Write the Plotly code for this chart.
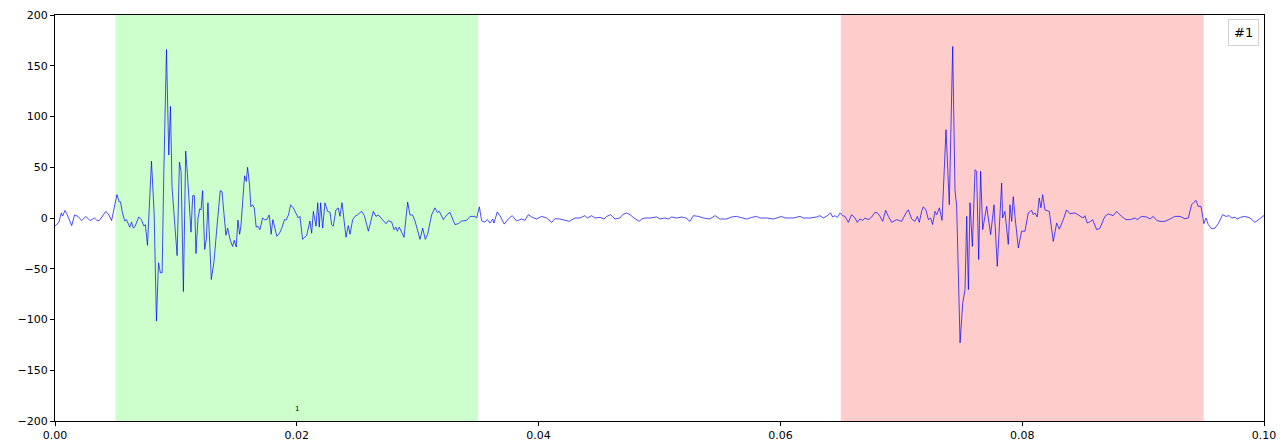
import numpy as np
import plotly.graph_objects as go

# sample times (ms) and amplitudes
t_ms = [0.0, 0.06, 0.33, 0.52, 0.63, 0.83, 1.02, 1.38, 1.62, 1.90, 2.20, 2.56, 2.89, 3.27, 3.49, 3.66,
        4.21, 4.46, 4.68, 5.12, 5.31, 5.42, 5.58, 5.78, 5.91, 6.05, 6.19, 6.33, 6.49, 6.63, 6.93,
        7.15, 7.35, 7.48, 7.65, 7.98, 8.20, 8.39, 8.56, 8.72, 8.86, 9.00, 9.22, 9.41, 9.55, 9.68,
        10.10, 10.29, 10.43, 10.62, 10.81, 10.95, 11.25, 11.39, 11.53, 11.66, 11.83, 11.97, 12.08,
        12.21, 12.38, 12.52, 12.65, 12.93, 13.15, 13.40, 13.67, 13.81, 14.00, 14.14, 14.28, 14.50,
        14.69, 14.83, 14.99, 15.13, 15.27, 15.38, 15.68, 15.82, 15.93, 16.09, 16.20, 16.34, 16.48,
        16.64, 16.78, 16.95, 17.17, 17.33, 17.52, 17.72, 17.88, 18.02, 18.35, 18.57, 18.76, 18.98,
        19.12, 19.31,
        19.49, 19.71, 20.13, 20.26, 20.48, 20.82, 21.09, 21.23, 21.37, 21.59, 21.73, 21.86, 21.97,
        22.14, 22.33, 22.55, 22.75, 22.88, 23.02, 23.24, 23.43, 23.57, 23.74, 23.90, 24.07, 24.26,
        24.40, 24.62, 24.81, 25.01, 25.36, 25.59, 25.92, 26.33, 26.55, 26.74, 27.02, 27.38, 27.57,
        27.85, 28.04, 28.20, 28.31, 28.48, 28.67, 28.87, 29.03, 29.17, 29.36, 29.58, 29.78, 29.97,
        30.19, 30.41, 30.63, 30.82, 31.15, 31.43, 31.62, 31.79, 32.12, 32.40, 32.67, 32.89, 33.08,
        33.36, 33.64, 34.05, 34.33, 34.74, 34.88, 35.10,
        35.29, 35.56, 35.76, 35.98, 36.20, 36.31, 36.58, 36.80, 37.16, 37.49, 37.82, 38.18, 38.60,
        38.87, 39.15, 39.42, 39.84, 40.25, 40.66, 41.08, 41.35, 41.77, 42.18, 42.54, 43.01, 43.42,
        43.83, 44.03, 44.39, 44.66, 45.08, 45.41, 45.63, 45.96, 46.32, 46.73, 46.95, 47.28, 47.56,
        47.89, 48.33, 48.52, 48.80, 49.21, 49.76, 50.04, 50.45, 50.73, 51.00, 51.42, 51.83, 52.19,
        52.52, 52.80, 53.21, 53.62, 54.17, 54.59, 55.00, 55.55, 55.97, 56.38, 56.66, 56.93, 57.21,
        57.62, 58.03, 58.31, 58.86, 59.41, 60.10, 60.38, 61.07, 61.62, 61.89, 62.45, 63.00, 63.27,
        63.55, 63.88, 64.15, 64.32, 64.51, 64.71,
        64.93, 65.15, 65.34, 65.62, 65.89, 66.17, 66.36, 66.58, 66.80, 67.00, 67.27, 67.55, 67.82,
        68.02, 68.24, 68.46, 68.71, 68.93, 69.20, 69.62, 70.03, 70.39, 70.58, 70.86, 71.13, 71.33,
        71.49, 71.68, 71.82, 72.04, 72.24, 72.43, 72.59, 72.79, 72.93, 73.15, 73.37, 73.70, 73.97,
        74.25, 74.44, 74.58, 74.86, 75.08, 75.27, 75.41, 75.55, 75.68, 75.88, 76.10, 76.23, 76.40,
        76.56, 76.73, 77.06, 77.39, 77.67, 77.94, 78.30,
        78.38, 78.57, 78.85, 78.99, 79.13, 79.26, 79.40, 79.68, 79.95, 80.23, 80.50, 80.78, 80.92,
        81.05, 81.25, 81.41, 81.55, 81.69, 81.88, 82.24, 82.57, 82.85, 83.07, 83.40, 83.67, 83.95,
        84.36, 84.78, 85.05, 85.19, 85.38, 85.66, 85.82, 86.16, 86.43, 86.84, 87.12, 87.53, 87.81,
        88.22, 88.58, 88.97, 89.33, 89.52, 89.88, 90.29, 90.57, 90.84, 91.12, 91.39, 91.81, 92.22,
        92.63, 93.05, 93.46, 93.74, 94.01, 94.37, 94.56, 94.79, 95.03, 95.20, 95.39, 95.67, 95.94,
        96.22, 96.58, 96.85, 97.13, 97.32, 97.60, 97.79, 98.07, 98.42, 98.84, 99.25, 99.53, 99.94,
        100.0]

amplitude = [-7, -7.5, -4, 5, 2, 7.5, 3, -7.5, 3, 1.6, -2.6, 1.6, -2.6, 0, -2.6, -2.6,
             6.5, 3, -2.6, 23, 16, 16, 5, -3, -1.6, -5.6, -9, -4, -10, -8, 1,
             -1.6, -8, -6.5, -27, 56, 5, -101.6, -44, -54, -54, 44, 166, 62, 110, 31,
             -37, 55, 46, -72.5, 66, 44, -14, 22, 22, -35, 0, 9, 8,
             27, -31, -21, 15, -60.6, -43, -8, 27, 26, -2, -17, -10, -22,
             -28, -22, -28.5, -2, -16, -8, 41.6, 36, 50, 33, 11, 13, 10,
             -9, -8, -11.5, 0, -1.6, -1.6, 3, -16, -1.6, -18, -15, -10, -1.6,
             -2, 3,
             13, 10, 0, 1.6, -21, -17, -3, -15, 6.5, -8, 15, -9, 15,
             -10, 15, 6.5, 5.6, -6.5, -8, 8, 10, 1.6, 15, -1.6, -19, -7.5,
             -16, -1.6, 1.6, 3, 6.5, 2.3, -13, 6.5, 1.6, 3, -1, -5.6, -2.6,
             -4, -11.5, -9, -13, -9, -14, -19, 0, 15.7, 3, 3, -3, -11.5,
             -21, -10, -21, -16, 3, 10, 5.6, 6.5, -1.6, 3, 5.6, -1, -6.5,
             -5.6, -3, -2.3, 1.6, 1.6, 0, 11,
             -3, -4, -1.6, -5, -1, -5, 6, 2.3, -6, -1, 2.3, -3, -1,
             -2.3, 3.3, 1, -1, 1.6, 0, -4.3, -0.7, -1, -2.3, -3.3, 0, 0,
             2.3, 0, 2.3, 0, 0.6, -1, 1.6, 3.3, -1, 0, 3.3, 5, 3.3,
             0, -3.3, -1, 0, 0, 1, -1, 0, -1, 1, 0, 1, 0,
             -3.3, 2.3, 1.6, 0, -1, 2.3, -1, -1, 1, 1.6, 0.6, 0, -1,
             0.6, 1.6, 0, 0, -1, 1.6, 0, 0, 1.6, 0, 0, 1, 2.3,
             0, 2.3, 5, 1, 2.3, 0.6,
             5, 2.3, 1.6, -4.3, 3.3, 0, -4.3, -1, -2.3, 0, -1.6, 1, 5.6,
             5, 1.6, -3.3, 7.5, 1.6, -4.3, -1.6, -3.3, 5, 8, -1, -3.3, 1.6,
             -4.3, 6.5, 11, 8, -1.6, 0, -6.5, 6.5, 3.3, 10, -2.3, 87, 13,
             169, 28, 11.5, -123, -84, -70.6, 1.6, -70.6, 15, -28, 47.6, 46, -41,
             46, -11.5, 11.5, -16.4, 13, -47.6, 34.5,
             0, 6.5, -26, 13, -3.3, 21, 1.6, -29.6, -13, -13, 5, 7.5, 3.3,
             5, 1, 19.7, 10, 23, 8, 6.5, -23, -5, -11, -1.6, 8, 4.3,
             5, 1.6, 0, 2.3, -5, -3.3, -1.6, -11.5, -10, 1.6, 4, 2.3, 6.5,
             1.6, -1.6, -1.6, 0, -1.6, 1.6, 1, -1, 1.6, -2.3, -3.3, -3.3, -1,
             1.6, 1.6, -0.7, 0, 13, 17.4, 11.5, 11.5, -5.6, 0, -6.5, -10.5, -10,
             -5.6, 3.3, 1.6, 2.3, 0, 0.7, -1, 0.7, 1.6, 0, -4.3, -1.6, 2.3,
             2.5]

# shaded windows (seconds)
green_window = [0.005, 0.035]
red_window = [0.065, 0.095]

x_ticks = [0.0, 0.02, 0.04, 0.06, 0.08, 0.10]
y_ticks = [-200, -150, -100, -50, 0, 50, 100, 150, 200]

t = np.array(t_ms) / 1000.0

fig = go.Figure()
fig.add_trace(go.Scatter(x=t, y=amplitude, mode="lines",
                         line=dict(color="rgba(0,0,255,0.7)", width=1),
                         showlegend=False, hoverinfo="skip"))

fig.add_shape(type="rect", xref="x", yref="paper", x0=green_window[0], x1=green_window[1],
              y0=0, y1=1, fillcolor="rgb(204,255,204)", line_width=0, layer="below")
fig.add_shape(type="rect", xref="x", yref="paper", x0=red_window[0], x1=red_window[1],
              y0=0, y1=1, fillcolor="rgb(255,204,204)", line_width=0, layer="below")

fig.add_annotation(x=0.02, y=-188, xref="x", yref="y", text="1", showarrow=False,
                   font=dict(family="DejaVu Sans", size=7, color="black"))

fig.add_annotation(x=0.9955, y=0.99, xref="paper", yref="paper", xanchor="right", yanchor="top",
                   text="#1", showarrow=False, bgcolor="white", bordercolor="#d0d0d0",
                   borderwidth=1, borderpad=5,
                   font=dict(family="DejaVu Sans", size=13, color="black"))

axis_common = dict(showgrid=False, zeroline=False, showline=True, linecolor="black",
                   linewidth=1, mirror=True, ticks="outside", ticklen=4, tickcolor="black",
                   automargin=False,
                   tickfont=dict(family="DejaVu Sans", size=11, color="black"))

fig.update_xaxes(range=[0, 0.1], tickvals=x_ticks, tickformat=".2f", **axis_common)
fig.update_yaxes(range=[-200, 200], tickvals=y_ticks, **axis_common)

fig.update_layout(width=1280, height=448, margin=dict(l=55, r=16, t=15, b=27),
                  plot_bgcolor="white", paper_bgcolor="white", showlegend=False)

fig.write_html("out.html", config={"displayModeBar": False},
               post_script="document.body.style.margin='0px';document.body.style.overflow='hidden';")
